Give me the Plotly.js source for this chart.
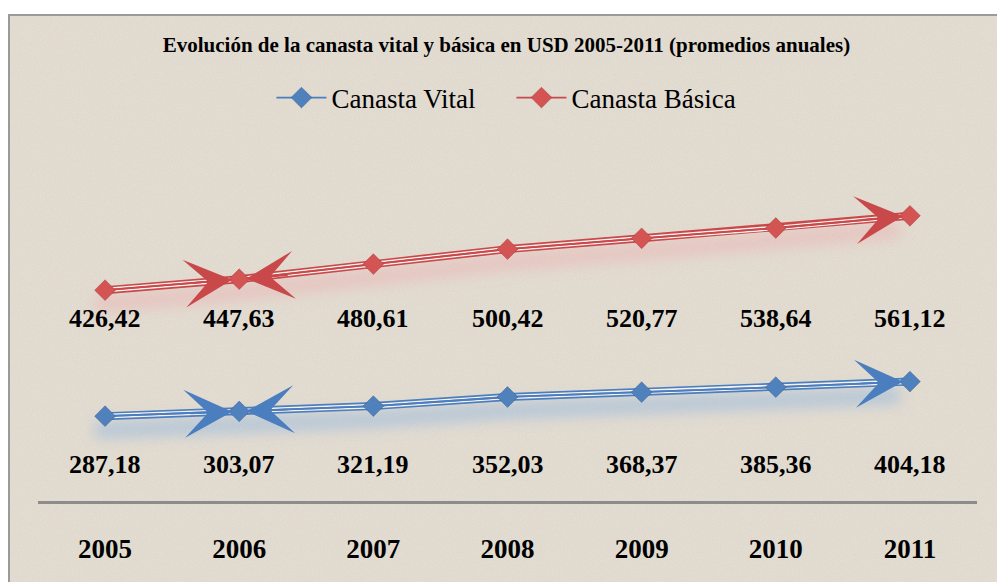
<!DOCTYPE html>
<html><head><meta charset="utf-8">
<script src="https://cdn.plot.ly/plotly-3.0.1.min.js"></script>
<style>
html,body{margin:0;padding:0;background:#fff;width:997px;height:582px;overflow:hidden;}
#frame{position:absolute;left:8px;top:14px;width:1000px;height:600px;border-left:2px solid #9c9a98;border-top:2px solid #9c9a98;
background-color:#e7e0d5;
background-image:url("data:image/svg+xml;utf8,<svg xmlns='http://www.w3.org/2000/svg' width='240' height='240'><filter id='n'><feTurbulence type='fractalNoise' baseFrequency='0.85' numOctaves='2' stitchTiles='stitch'/><feColorMatrix values='0 0 0 0 0.45  0 0 0 0 0.42  0 0 0 0 0.38  0 0 0 0.22 0'/></filter><rect width='100%' height='100%' filter='url(%23n)'/></svg>");}
#chart{position:absolute;left:0;top:0;width:997px;height:582px;}
</style></head>
<body>
<div id="frame"></div>
<div id="chart"></div>
<script>
const years = ['2005','2006','2007','2008','2009','2010','2011'];
const vital = [287.18, 303.07, 321.19, 352.03, 368.37, 385.36, 404.18];
const basica = [426.42, 447.63, 480.61, 500.42, 520.77, 538.64, 561.12];
const vitalLabels = ['287,18','303,07','321,19','352,03','368,37','385,36','404,18'];
const basicaLabels = ['426,42','447,63','480,61','500,42','520,77','538,64','561,12'];
const seriesNames = ['Canasta Vital','Canasta Básica'];

const blue = '#4a7ebe', red = '#c9484a';
const blueM = '#4f81bd', redM = '#d45454';

// stacked line chart (as in the original): basica drawn on top of vital
const basicaStack = basica.map((v,i)=>v+vital[i]);

function triple(y, color, mcolor, name, mline){
  return [
    {x:years,y:y,mode:'lines',line:{color:color,width:8},showlegend:false,hoverinfo:'skip'},
    {x:years,y:y,mode:'lines',line:{color:'#f6f0ee',width:4.6},showlegend:false,hoverinfo:'skip'},
    {x:years,y:y,mode:'lines',line:{color:color,width:1.8},showlegend:false,hoverinfo:'skip'},
    {x:years,y:y,mode:'lines+markers',name:name,line:{color:color,width:1.8},
     marker:{symbol:'diamond',size:16,color:mcolor,line:{color:mline,width:1}}}
  ];
}
// soft shadow traces (blurred after drawing)
const shadows = [
  {x:years,y:vital,mode:'lines',line:{color:'rgba(110,165,230,0.38)',width:16},showlegend:false,hoverinfo:'skip'},
  {x:years,y:basicaStack,mode:'lines',line:{color:'rgba(240,160,165,0.38)',width:16},showlegend:false,hoverinfo:'skip'}
];
const data = [].concat(shadows,
                       triple(vital, blue, blueM, seriesNames[0], 'rgba(40,70,120,0.35)'),
                       triple(basicaStack, red, redM, seriesNames[1], 'rgba(140,40,40,0.35)'));

const serif = 'Liberation Serif, Times New Roman, serif';
const lblFont = {family:serif, size:26, color:'#000'};
const annotations = [];
years.forEach((yr,i)=>{
  annotations.push({x:i, xref:'x', y:0.1026, yref:'paper', text:'<b>'+vitalLabels[i]+'</b>', showarrow:false, font:lblFont, yanchor:'middle'});
  annotations.push({x:i, xref:'x', y:0.521, yref:'paper', text:'<b>'+basicaLabels[i]+'</b>', showarrow:false, font:lblFont, yanchor:'middle'});
});
// arrowheads as in the original
function arrowAt(i, y, color, ax, ay){
  return {x:i, y:y[i], xref:'x', yref:'y', ax:ax, ay:ay, showarrow:true, arrowhead:3, arrowsize:5, arrowwidth:1.6,
          arrowcolor:color, standoff:7, text:''};
}
annotations.push(arrowAt(1, basicaStack, red, -50, 4));
annotations.push(arrowAt(1, basicaStack, red, 50, -4));
annotations.push(arrowAt(6, basicaStack, red, -50, 4));
annotations.push(arrowAt(1, vital, blue, -50, 2));
annotations.push(arrowAt(1, vital, blue, 50, -2));
annotations.push(arrowAt(6, vital, blue, -50, 2));

const layout = {
  width:997, height:582,
  paper_bgcolor:'rgba(0,0,0,0)', plot_bgcolor:'rgba(0,0,0,0)',
  margin:{l:38, r:20, t:150, b:81},
  title:{text:'<b>Evolución de la canasta vital y básica en USD 2005-2011 (promedios anuales)</b>',
    font:{family:serif, size:21, color:'#000'},
    x:0.508, xanchor:'center', xref:'container', y:1-45/582, yref:'container', yanchor:'middle'},
  showlegend:true,
  legend:{orientation:'h', x:0.513, xanchor:'center', xref:'container', y:1-98/582, yref:'container', yanchor:'middle',
    font:{family:serif, size:27, color:'#000'}, bgcolor:'rgba(0,0,0,0)', itemwidth:50, entrywidth:175},
  xaxis:{type:'category', range:[-0.5,6.5], showline:true, linecolor:'#8c8c8c', linewidth:2.5, showgrid:false, zeroline:false,
    ticks:'', ticklabelstandoff:22, tickfont:{family:serif, size:27, color:'#000', weight:'bold'}},
  yaxis:{range:[0,1188], visible:false, showgrid:false, zeroline:false},
  annotations:annotations
};
Plotly.newPlot('chart', data, layout, {displayModeBar:false, staticPlot:true}).then(gd=>{
  const NS='http://www.w3.org/2000/svg';
  const svg = gd.querySelector('.main-svg');
  let defs = svg.querySelector('defs');
  if(!defs){defs=document.createElementNS(NS,'defs');svg.insertBefore(defs,svg.firstChild);}
  const f=document.createElementNS(NS,'filter');
  f.setAttribute('id','softglow');f.setAttribute('x','-20%');f.setAttribute('y','-100%');f.setAttribute('width','140%');f.setAttribute('height','300%');
  const off=document.createElementNS(NS,'feOffset');off.setAttribute('dx','-10');off.setAttribute('dy','14');
  const blur=document.createElementNS(NS,'feGaussianBlur');blur.setAttribute('stdDeviation','7');
  f.appendChild(off);f.appendChild(blur);defs.appendChild(f);
  const traces = gd.querySelectorAll('.scatterlayer .trace');
  [0,1].forEach(k=>{ if(traces[k]) traces[k].setAttribute('filter','url(#softglow)'); });
});
</script>
</body></html>
